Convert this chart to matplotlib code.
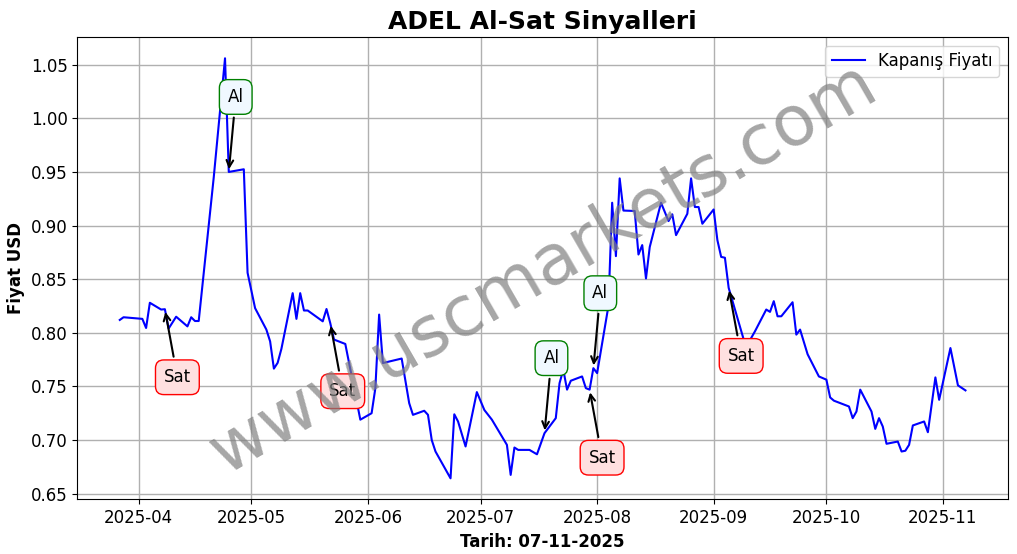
import matplotlib
matplotlib.use('Agg')
import matplotlib.pyplot as plt
import matplotlib.dates as mdates
import pandas as pd

# closing prices
dates = [
    '2025-03-27', '2025-03-28', '2025-04-02', '2025-04-03', '2025-04-04', '2025-04-07',
    '2025-04-08', '2025-04-09', '2025-04-11', '2025-04-14', '2025-04-15', '2025-04-16',
    '2025-04-17', '2025-04-21', '2025-04-24', '2025-04-25', '2025-04-29', '2025-04-30',
    '2025-05-02', '2025-05-05', '2025-05-06', '2025-05-07', '2025-05-08', '2025-05-09',
    '2025-05-12', '2025-05-13', '2025-05-14', '2025-05-15', '2025-05-16', '2025-05-20',
    '2025-05-21', '2025-05-22', '2025-05-23', '2025-05-26', '2025-05-30', '2025-06-02',
    '2025-06-03', '2025-06-04', '2025-06-05', '2025-06-10', '2025-06-12', '2025-06-13',
    '2025-06-16', '2025-06-17', '2025-06-18', '2025-06-19', '2025-06-23', '2025-06-24',
    '2025-06-25', '2025-06-27', '2025-06-30', '2025-07-02', '2025-07-04', '2025-07-08',
    '2025-07-09', '2025-07-10', '2025-07-11', '2025-07-14', '2025-07-16', '2025-07-18',
    '2025-07-21', '2025-07-22', '2025-07-23', '2025-07-24', '2025-07-25', '2025-07-28',
    '2025-07-29', '2025-07-30', '2025-07-31', '2025-08-01', '2025-08-04', '2025-08-05',
    '2025-08-06', '2025-08-07', '2025-08-08', '2025-08-11', '2025-08-12', '2025-08-13',
    '2025-08-14', '2025-08-15', '2025-08-18', '2025-08-20', '2025-08-21', '2025-08-22',
    '2025-08-25', '2025-08-26', '2025-08-27', '2025-08-28', '2025-08-29', '2025-09-01',
    '2025-09-02', '2025-09-03', '2025-09-04', '2025-09-05', '2025-09-09', '2025-09-10',
    '2025-09-12', '2025-09-15', '2025-09-16', '2025-09-17', '2025-09-18', '2025-09-19',
    '2025-09-22', '2025-09-23', '2025-09-24', '2025-09-26', '2025-09-29', '2025-10-01',
    '2025-10-02', '2025-10-03', '2025-10-07', '2025-10-08', '2025-10-09', '2025-10-10',
    '2025-10-13', '2025-10-14', '2025-10-15', '2025-10-16', '2025-10-17', '2025-10-20',
    '2025-10-21', '2025-10-22', '2025-10-23', '2025-10-24', '2025-10-27', '2025-10-28',
    '2025-10-30', '2025-10-31', '2025-11-03', '2025-11-05', '2025-11-07',
]
prices = [
    0.812, 0.8145, 0.813, 0.8045, 0.828, 0.8217,
    0.822, 0.804, 0.815, 0.806, 0.8145, 0.811,
    0.811, 0.945, 1.056, 0.950, 0.9525, 0.856,
    0.823, 0.803, 0.792, 0.7666, 0.772, 0.785,
    0.837, 0.813, 0.837, 0.8208, 0.8208, 0.8107,
    0.8222, 0.809, 0.7937, 0.7896, 0.719, 0.725,
    0.7484, 0.817, 0.7718, 0.776, 0.7344, 0.7235,
    0.7273, 0.7235, 0.700, 0.6893, 0.6643, 0.724,
    0.7173, 0.694, 0.7447, 0.728, 0.719, 0.6955,
    0.6675, 0.693, 0.6908, 0.6908, 0.6867, 0.7064,
    0.7204, 0.753, 0.7656, 0.747, 0.7553, 0.7593,
    0.7484, 0.747, 0.767, 0.7624, 0.8248, 0.9213,
    0.8715, 0.944, 0.914, 0.9136, 0.873, 0.8818,
    0.8507, 0.880, 0.9213, 0.9042, 0.9105, 0.8911,
    0.911, 0.944, 0.9173, 0.9173, 0.9017, 0.915,
    0.8864, 0.8708, 0.870, 0.8419, 0.7937, 0.789,
    0.8014, 0.8217, 0.8195, 0.8295, 0.8154, 0.8154,
    0.8285, 0.7983, 0.803, 0.780, 0.7593, 0.7563,
    0.7397, 0.7367, 0.7313, 0.7204, 0.7266, 0.747,
    0.7266, 0.7104, 0.7204, 0.7126, 0.6965, 0.6986,
    0.6893, 0.690, 0.6955, 0.7136, 0.7173, 0.7073,
    0.7584, 0.7375, 0.7858, 0.751, 0.7463,
]

# buy / sell signals
signal_dates = ['2025-04-08', '2025-04-25', '2025-05-22', '2025-07-18',
                '2025-07-30', '2025-07-31', '2025-09-05']
signal_types = ['Sat', 'Al', 'Sat', 'Al', 'Sat', 'Al', 'Sat']

series = pd.Series(prices, index=pd.to_datetime(dates))

fig, ax = plt.subplots(figsize=(10.17, 5.54), dpi=100)
fig.subplots_adjust(left=0.0762, right=0.9909, top=0.9327, bottom=0.0987)

ax.plot(series.index, series.values, color='blue', lw=1.5, label='Kapanış Fiyatı')

for d, kind in zip(signal_dates, signal_types):
    t = pd.Timestamp(d)
    p = series[t]
    if kind == 'Al':
        offs = (5, 54)
        box = dict(boxstyle='round,pad=0.5', fc='aliceblue', ec='green', lw=1)
    else:
        offs = (9, -49)
        box = dict(boxstyle='round,pad=0.5', fc='#ffe0e0', ec='red', lw=1)
    ax.annotate(kind, xy=(t, p), xytext=offs, textcoords='offset points',
                ha='center', va='center', fontsize=12, bbox=box,
                arrowprops=dict(arrowstyle='->', color='black', lw=1.5))

ax.set_title('ADEL Al-Sat Sinyalleri', fontsize=18, fontweight='bold')
ax.set_xlabel('Tarih: 07-11-2025', fontsize=12, fontweight='bold')
ax.set_ylabel('Fiyat USD', fontsize=12, fontweight='bold')
ax.xaxis.set_major_locator(mdates.MonthLocator())
ax.xaxis.set_major_formatter(mdates.DateFormatter('%Y-%m'))
ax.tick_params(labelsize=12)
ax.grid(True, color='#b0b0b0', lw=1)
ax.legend(loc='upper right', fontsize=12)

# watermark
ax.text(0.5, 0.5, 'www.uscmarkets.com', transform=ax.transAxes, fontsize=50,
        color='gray', alpha=0.7, rotation=30, ha='center', va='center', zorder=10)

fig.savefig('out.png', dpi=100)
